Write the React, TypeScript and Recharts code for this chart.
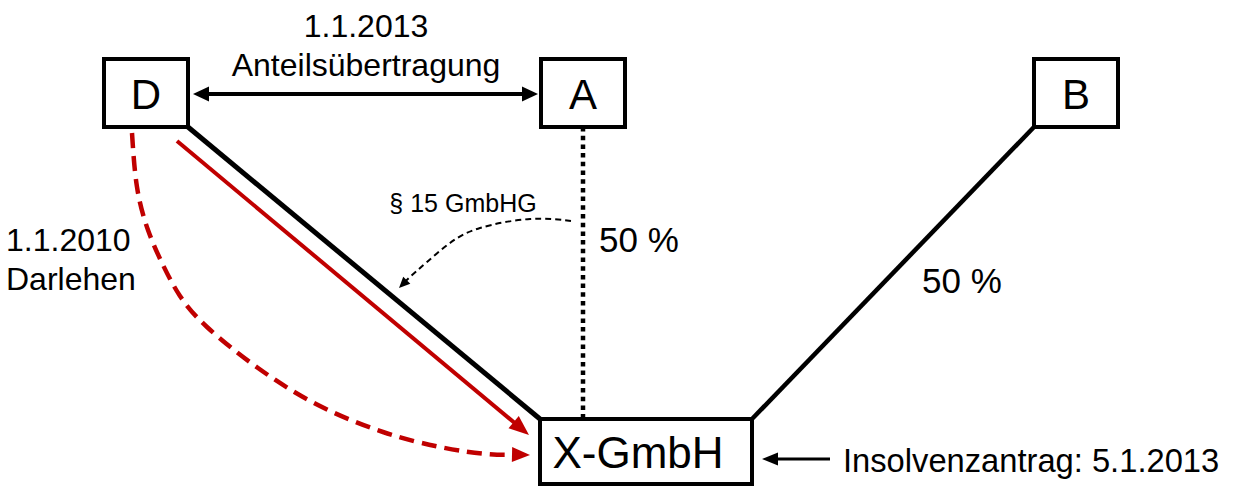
import React from 'react'
import { ScatterChart, Scatter, XAxis, YAxis, ReferenceArea } from 'recharts'

const W = 1234
const H = 486
const FONT = '"Liberation Sans", Arial, Helvetica, sans-serif'
const RED = '#c00000'

type Pt = { x: number; y: number }

// boxes of the diagram (data coords = pixels, y grows downward)
const nodes = [
  { name: 'D', x1: 104, x2: 188, y1: 59, y2: 127 },
  { name: 'A', x1: 541, x2: 625, y1: 59, y2: 127 },
  { name: 'B', x1: 1034, x2: 1118, y1: 59, y2: 127 },
  { name: 'X-GmbH', x1: 540, x2: 752, y1: 419, y2: 484 },
]

// shareholding links
const holdingD: Pt[] = [{ x: 188, y: 127 }, { x: 540, y: 419 }]
const holdingA: Pt[] = [{ x: 583, y: 127 }, { x: 583, y: 419 }]
const holdingB: Pt[] = [{ x: 1034, y: 127 }, { x: 752, y: 419 }]

// arrows
const transfer: Pt[] = [{ x: 193, y: 94 }, { x: 538, y: 94 }]
const loanLine: Pt[] = [{ x: 177, y: 141 }, { x: 529, y: 435 }]
const loanCurve: Pt[] = [
  { x: 132, y: 133 }, { x: 137, y: 187 }, { x: 148, y: 230 }, { x: 163, y: 265 },
  { x: 180, y: 296 }, { x: 207, y: 327 }, { x: 258, y: 368 }, { x: 318, y: 405 },
  { x: 383, y: 432 }, { x: 440, y: 447 }, { x: 486, y: 454 }, { x: 530, y: 455 },
]
const gmbhgCurve: Pt[] = [
  { x: 571, y: 221 }, { x: 530, y: 219 }, { x: 480, y: 228 }, { x: 450, y: 243 },
  { x: 427, y: 262 }, { x: 410, y: 277 }, { x: 399, y: 288 },
]
const insolvency: Pt[] = [{ x: 830, y: 459 }, { x: 762, y: 459 }]

// text labels (y = baseline)
const labels = [
  { text: '1.1.2013', x: 366, y: 37, kind: 'text' },
  { text: 'Anteilsübertragung', x: 366, y: 76, kind: 'text' },
  { text: 'D', x: 146, y: 109, kind: 'node' },
  { text: 'A', x: 583, y: 109, kind: 'node' },
  { text: 'B', x: 1076, y: 109, kind: 'node' },
  { text: 'X-GmbH', x: 638, y: 468, kind: 'company' },
  { text: '§ 15 GmbHG', x: 463, y: 212, kind: 'small' },
  { text: '50 %', x: 639, y: 252, kind: 'share' },
  { text: '50 %', x: 962, y: 293, kind: 'share' },
  { text: '1.1.2010', x: 6, y: 251, kind: 'left' },
  { text: 'Darlehen', x: 6, y: 290, kind: 'left' },
  { text: 'Insolvenzantrag: 5.1.2013', x: 843, y: 472, kind: 'note' },
]

const LABEL_STYLE: Record<string, { size: number; anchor: 'start' | 'middle' }> = {
  text: { size: 32, anchor: 'middle' },
  node: { size: 42, anchor: 'middle' },
  company: { size: 44, anchor: 'middle' },
  small: { size: 25, anchor: 'middle' },
  share: { size: 35, anchor: 'middle' },
  left: { size: 32, anchor: 'start' },
  note: { size: 32.7, anchor: 'start' },
}

type PathDef = {
  pts: Pt[]
  stroke: string
  width: number
  dash?: string
  curve?: 'linear' | 'natural'
  head?: 'end' | 'both'
  len?: number
  wid?: number
}

const paths: PathDef[] = [
  { pts: holdingD, stroke: '#000', width: 5 },
  { pts: holdingA, stroke: '#000', width: 4.5, dash: '4.5 4.2' },
  { pts: holdingB, stroke: '#000', width: 4.5 },
  { pts: transfer, stroke: '#000', width: 4, head: 'both', len: 16, wid: 15 },
  { pts: loanLine, stroke: RED, width: 4, head: 'end', len: 20, wid: 16 },
  { pts: loanCurve, stroke: RED, width: 4.5, dash: '15 8', curve: 'natural', head: 'end', len: 18, wid: 15 },
  { pts: gmbhgCurve, stroke: '#000', width: 2, dash: '6 4', curve: 'natural', head: 'end', len: 11, wid: 10 },
  { pts: insolvency, stroke: '#000', width: 3, head: 'end', len: 16, wid: 13 },
]

function moveBack(tip: Pt, from: Pt, d: number): Pt {
  const dx = tip.x - from.x
  const dy = tip.y - from.y
  const l = Math.hypot(dx, dy)
  return { x: tip.x - (dx / l) * d, y: tip.y - (dy / l) * d }
}

function headFor(tip: Pt, from: Pt, p: PathDef) {
  return { x: tip.x, y: tip.y, angle: Math.atan2(tip.y - from.y, tip.x - from.x), len: p.len ?? 14, wid: p.wid ?? 12, color: p.stroke }
}

function linePoints(p: PathDef) {
  const pts = [...p.pts]
  const n = pts.length
  const cut = (p.len ?? 0) * 0.6
  if (p.head) pts[n - 1] = moveBack(pts[n - 1], pts[n - 2], cut)
  if (p.head === 'both') pts[0] = moveBack(pts[0], pts[1], cut)
  return pts
}

function headPoints(p: PathDef) {
  const n = p.pts.length
  const out = []
  if (p.head) out.push(headFor(p.pts[n - 1], p.pts[n - 2], p))
  if (p.head === 'both') out.push(headFor(p.pts[0], p.pts[1], p))
  return out
}

const ArrowHead = (props: any) => {
  const { cx, cy, payload } = props
  const deg = (payload.angle * 180) / Math.PI
  return (
    <polygon
      points={`0,0 ${-payload.len},${-payload.wid / 2} ${-payload.len},${payload.wid / 2}`}
      fill={payload.color}
      transform={`translate(${cx},${cy}) rotate(${deg})`}
    />
  )
}

const LabelText = (props: any) => {
  const { cx, cy, payload } = props
  const st = LABEL_STYLE[payload.kind]
  return (
    <text x={cx} y={cy} textAnchor={st.anchor} fontSize={st.size} fontFamily={FONT} fill="#000">
      {payload.text}
    </text>
  )
}

const Nothing = () => <g />

export default function App() {
  return (
    <div style={{ position: 'absolute', left: 0, top: 0, width: W, height: H, background: '#fff' }}>
      <ScatterChart width={W} height={H} margin={{ top: 0, right: 0, bottom: 0, left: 0 }}>
        <XAxis type="number" dataKey="x" domain={[0, W]} allowDataOverflow hide />
        <YAxis type="number" dataKey="y" domain={[0, H]} allowDataOverflow reversed hide />
        {paths.map((p, i) => (
          <Scatter
            key={'p' + i}
            data={linePoints(p)}
            line={{ stroke: p.stroke, strokeWidth: p.width, strokeDasharray: p.dash }}
            lineJointType={p.curve ?? 'linear'}
            shape={Nothing}
            isAnimationActive={false}
          />
        ))}
        {paths.filter(p => p.head).map((p, i) => (
          <Scatter key={'h' + i} data={headPoints(p)} shape={ArrowHead} isAnimationActive={false} />
        ))}
        {nodes.map(n => (
          <ReferenceArea
            key={n.name}
            x1={n.x1}
            x2={n.x2}
            y1={n.y1}
            y2={n.y2}
            fill="#fff"
            fillOpacity={1}
            stroke="#000"
            strokeWidth={4}
          />
        ))}
        <Scatter data={labels} shape={LabelText} isAnimationActive={false} />
      </ScatterChart>
    </div>
  )
}
